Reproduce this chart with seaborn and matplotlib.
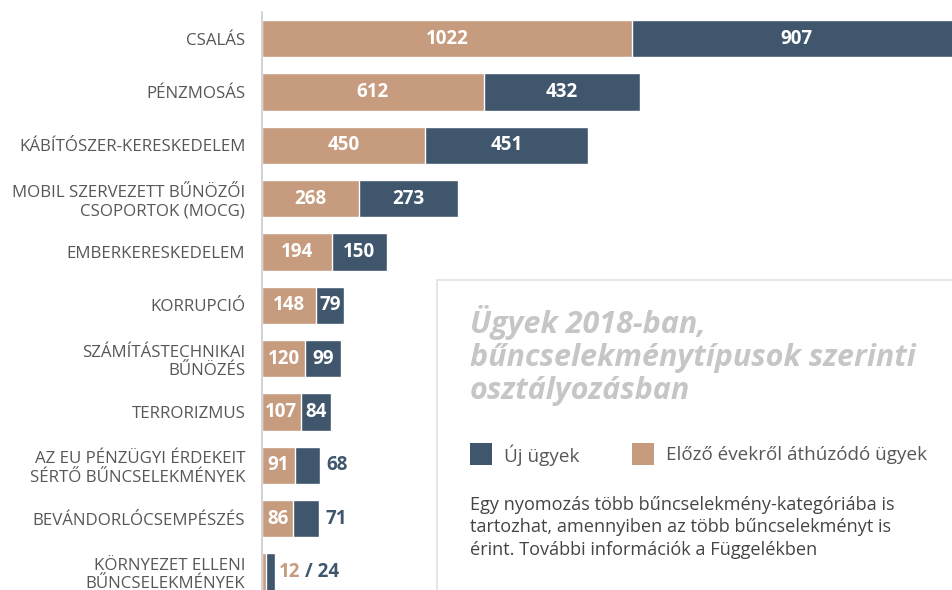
"""
plot.py

Horizontal stacked bars: cases in 2018 by crime type (new vs. carried over).
"""

import matplotlib.pyplot as plt
import matplotlib.patches as mpatches
import numpy as np
import pandas as pd
import seaborn as sns

categories = [
    "CSALÁS",
    "PÉNZMOSÁS",
    "KÁBÍTÓSZER-KERESKEDELEM",
    "MOBIL SZERVEZETT BŰNÖZŐI\nCSOPORTOK (MOCG)",
    "EMBERKERESKEDELEM",
    "KORRUPCIÓ",
    "SZÁMÍTÁSTECHNIKAI\nBŰNÖZÉS",
    "TERRORIZMUS",
    "AZ EU PÉNZÜGYI ÉRDEKEIT\nSÉRTŐ BŰNCSELEKMÉNYEK",
    "BEVÁNDORLÓCSEMPÉSZÉS",
    "KÖRNYEZET ELLENI\nBŰNCSELEKMÉNYEK",
]
previous_cases = [1022, 612, 450, 268, 194, 148, 120, 107, 91, 86, 12]
new_cases = [907, 432, 451, 273, 150, 79, 99, 84, 68, 71, 24]

TAN = "#C79B7E"
NAVY = "#3F566C"
GREY_TXT = "#575757"

sns.set_style("white")
plt.rcParams["font.family"] = ["Open Sans", "DejaVu Sans"]

df = pd.DataFrame({
    "category": categories,
    "previous": previous_cases,
    "new": new_cases,
})
df["total"] = df["previous"] + df["new"]

fig = plt.figure(figsize=(9.52, 5.9), dpi=100)
ax = fig.add_axes([262 / 952, 0, 690 / 952, 578 / 590])

# total first (navy), carried-over part painted over it (tan)
sns.barplot(data=df, y="category", x="total", color=NAVY, width=0.7,
            saturation=1, orient="h", ax=ax)
sns.barplot(data=df, y="category", x="previous", color=TAN, width=0.7,
            saturation=1, orient="h", ax=ax)

ax.set_xlim(0, 1906)
ax.set_ylim(10.34, -0.5)
ax.set_xlabel("")
ax.set_ylabel("")
ax.set_xticks([])

for side in ["top", "right", "bottom"]:
    ax.spines[side].set_visible(False)
ax.spines["left"].set_color("#cccccc")
ax.spines["left"].set_linewidth(1.2)

ax.tick_params(axis="y", which="major", length=0, pad=12,
               labelsize=12.2, labelcolor=GREY_TXT)
ax.set_yticks(np.arange(-0.5, 10, 1), minor=True)
ax.tick_params(axis="y", which="minor", length=6, color="#cccccc", width=1.2)

FS = 13.5
lbl = dict(fontsize=FS, fontweight="bold", va="center", ha="center")
for i, row in df.iterrows():
    p, n = row["previous"], row["new"]
    if p >= 30:
        ax.text(p / 2, i, str(p), color="white", **lbl)
    if n >= 75:
        ax.text(p + n / 2, i, str(n), color="white", **lbl)
    elif p >= 30:
        ax.annotate(str(n), xy=(p + n, i), xytext=(5, 0),
                    textcoords="offset points", color=NAVY,
                    fontsize=FS, fontweight="bold", va="center")
    else:
        t1 = ax.annotate(str(p), xy=(p + n, i), xytext=(3, 0),
                         textcoords="offset points", color=TAN,
                         fontsize=FS, fontweight="bold", va="center")
        ax.annotate("/ " + str(n), xy=(1, 0.5), xycoords=t1, xytext=(3, 0),
                    textcoords="offset points", color=NAVY,
                    fontsize=FS, fontweight="bold", va="center")

# info box on the right
box = mpatches.Rectangle((437 / 952, -0.05), 0.6, 1 - 280 / 590 + 0.05,
                         transform=fig.transFigure, facecolor="white",
                         edgecolor="#e2e2e2", linewidth=1.2, zorder=5)
fig.patches.append(box)

fig.text(470 / 952, 1 - 305 / 590,
         "Ügyek 2018-ban,\nbűncselekménytípusok szerinti\nosztályozásban",
         fontsize=22, fontweight="bold", fontstyle="italic", color="#c6c6c6",
         va="top", ha="left", linespacing=1.13, zorder=6)

for x0, col, label in [(470, NAVY, "Új ügyek"),
                       (632, TAN, "Előző évekről áthúzódó ügyek")]:
    sq = mpatches.Rectangle((x0 / 952, 1 - 465 / 590), 22 / 952, 22 / 590,
                            transform=fig.transFigure, facecolor=col,
                            edgecolor="none", zorder=6)
    fig.patches.append(sq)
    fig.text((x0 + 34) / 952, 1 - 455 / 590, label, fontsize=13.6,
             color=GREY_TXT, va="center", ha="left", zorder=6)

fig.text(470 / 952, 1 - 496 / 590,
         "Egy nyomozás több bűncselekmény-kategóriába is\n"
         "tartozhat, amennyiben az több bűncselekményt is\n"
         "érint. További információk a Függelékben",
         fontsize=13.1, color="#444444", va="top", ha="left",
         linespacing=1.32, zorder=6)

fig.savefig("out.png", dpi=100)
